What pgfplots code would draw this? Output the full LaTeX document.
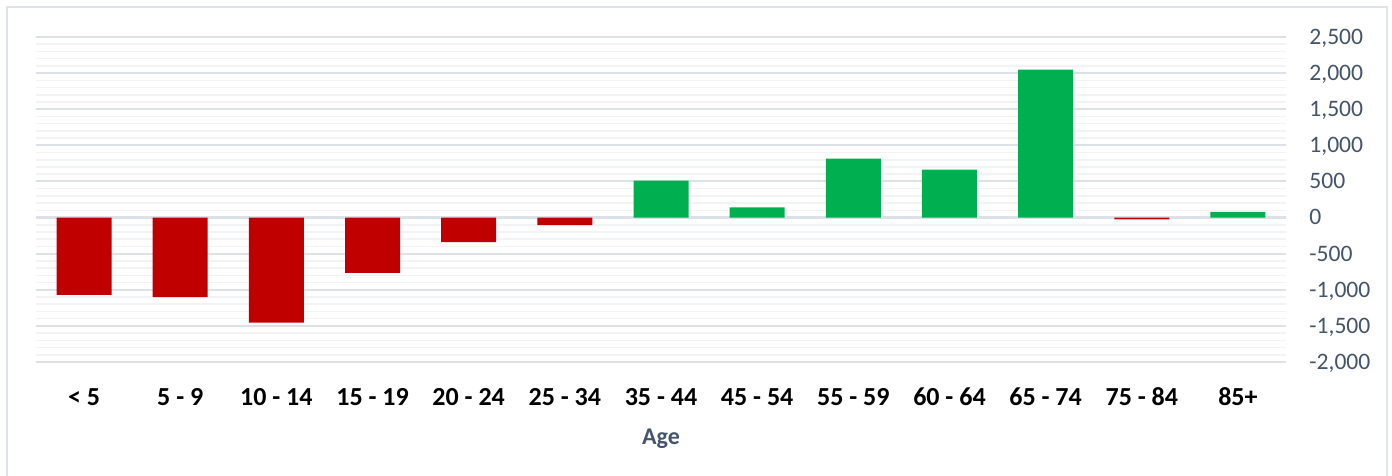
\documentclass[border=0pt]{standalone}
\usepackage{fontspec}
\setmainfont{Carlito}
\usepackage{pgfplots}
\pgfplotsset{compat=1.18}
\definecolor{barred}{HTML}{C00000}
\definecolor{bargreen}{HTML}{00B050}
\definecolor{gridmaj}{HTML}{DCE0E7}
\definecolor{gridmin}{HTML}{F2F3F5}
\definecolor{labcol}{HTML}{44546A}
\definecolor{framecol}{HTML}{DEE3EA}
\begin{document}
\begin{tikzpicture}
\begin{axis}[
  at={(0,0)}, anchor=south west,
  scale only axis, width=625bp, height=162.5bp,
  xmin=-0.5, xmax=12.5, ymin=-2000, ymax=2500,
  axis line style={draw=none},
  tick style={draw=none},
  major tick length=0pt, minor tick length=0pt,
  xtick={0,...,12},
  xticklabels={{< 5},{5 - 9},{10 - 14},{15 - 19},{20 - 24},{25 - 34},{35 - 44},{45 - 54},{55 - 59},{60 - 64},{65 - 74},{75 - 84},{85+}},
  xticklabel style={anchor=base, inner sep=0pt, yshift=-21.5bp, font=\bfseries\fontsize{13bp}{15bp}\selectfont, text=black},
  ytick={-2000,-1500,...,2500},
  yticklabels={{-2,000},{-1,500},{-1,000},{-500},{0},{500},{1,000},{1,500},{2,000},{2,500}},
  yticklabel pos=right,
  yticklabel style={anchor=base west, inner sep=0pt, xshift=11.5bp, yshift=-3.7bp, font=\fontsize{11.8bp}{14bp}\selectfont, text=labcol},
  minor y tick num=4,
  ymajorgrids, yminorgrids,
  major grid style={color=gridmaj, line width=1bp},
  minor grid style={color=gridmin, line width=0.75bp},
  xlabel={Age},
  xlabel style={at={(axis description cs:0.5,0)}, anchor=base, inner sep=0pt, yshift=-41bp, font=\bfseries\fontsize{12bp}{14bp}\selectfont, text=labcol},
  clip=false,
]
\addplot[sharp plot, gridmaj, line width=1.3bp, forget plot] coordinates {(-0.5,0) (12.5,0)};
\addplot[ybar, bar width=27.5bp, bar shift=0pt, fill=barred, draw=none] coordinates {
  (0,-1070) (1,-1100) (2,-1455) (3,-765) (4,-340) (5,-105) (11,-25)};
\addplot[ybar, bar width=27.5bp, bar shift=0pt, fill=bargreen, draw=none] coordinates {
  (6,512) (7,140) (8,815) (9,662) (10,2050) (12,80)};
\end{axis}
\pgfresetboundingbox
\path[use as bounding box] (-18bp,-57bp) rectangle (678bp,181bp);
\draw[framecol, line width=1bp] (-14.5bp,-62bp) rectangle (675.5bp,177.5bp);
\end{tikzpicture}
\end{document}
